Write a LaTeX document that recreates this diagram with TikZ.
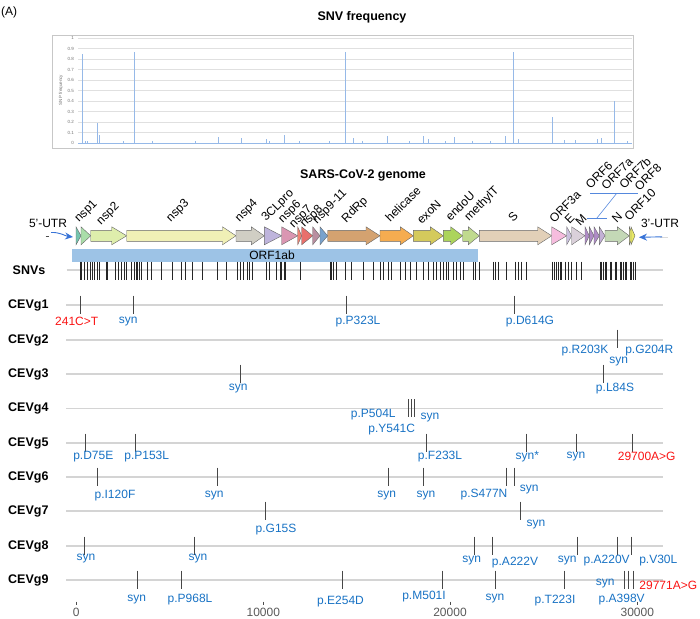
\documentclass[tikz,border=0pt]{standalone}
\usepackage{fontspec}
\setmainfont{Liberation Sans}
\usetikzlibrary{arrows.meta, positioning, calc}
\definecolor{mutblue}{RGB}{24,114,196}
\definecolor{ntred}{RGB}{250,20,20}
\definecolor{barblue}{RGB}{150,185,232}
\definecolor{orfbar}{RGB}{157,195,230}
\definecolor{utrblue}{RGB}{55,115,215}
\definecolor{cutr}{RGB}{118,196,174}
\definecolor{cnspa}{RGB}{170,222,170}
\definecolor{cnspb}{RGB}{222,238,172}
\definecolor{cnspc}{RGB}{240,240,182}
\definecolor{cnspd}{RGB}{208,206,196}
\definecolor{cclp}{RGB}{190,180,220}
\definecolor{cnspf}{RGB}{218,150,178}
\definecolor{cnspg}{RGB}{240,130,115}
\definecolor{cnsph}{RGB}{232,112,108}
\definecolor{cnspi}{RGB}{185,142,160}
\definecolor{cnspj}{RGB}{120,162,205}
\definecolor{crdrp}{RGB}{212,162,112}
\definecolor{chel}{RGB}{245,172,80}
\definecolor{cexo}{RGB}{212,202,92}
\definecolor{cendo}{RGB}{172,212,92}
\definecolor{cmeth}{RGB}{192,218,142}
\definecolor{cspk}{RGB}{226,208,184}
\definecolor{corfa}{RGB}{246,188,222}
\definecolor{corfe}{RGB}{202,192,222}
\definecolor{corfm}{RGB}{218,208,218}
\definecolor{corfs}{RGB}{175,140,198}
\definecolor{corfh}{RGB}{195,176,214}
\definecolor{cnuc}{RGB}{196,216,182}
\definecolor{corft}{RGB}{232,232,100}

\begin{document}
\begin{tikzpicture}[x=1pt, y=-1pt,
    rowline/.style={draw=black!17, line width=1.1pt},
    tk/.style={draw=black!72, line width=0.9pt},
    mut/.style={text=mutblue, font=\fontsize{12}{14}\selectfont, inner sep=0pt},
    ntc/.style={text=ntred, font=\fontsize{12}{14}\selectfont, inner sep=0pt},
    rowlab/.style={font=\fontsize{12.5}{14}\selectfont\bfseries, anchor=west, inner sep=0pt},
    glab/.style={rotate=45, font=\fontsize{12}{14}\selectfont, inner sep=0pt},
    gene/.style={draw=black!60, line width=0.4pt},
    bar/.style={draw=barblue, line width=0.8pt},
    grid/.style={draw=black!12, line width=0.4pt},
    ytick/.style={font=\fontsize{4.5}{5}\selectfont, text=black!55, anchor=east, inner sep=0pt},
    utr/.style={draw=utrblue, line width=0.9pt, -{Stealth[length=8pt,width=7pt]}},
    orfline/.style={draw=utrblue!85, line width=0.6pt},
    axlab/.style={font=\fontsize{12}{14}\selectfont, text=black!65, inner sep=0pt}
  ]
  \useasboundingbox (0,0) rectangle (700,618);

  % panel tag and titles
  \node[font=\fontsize{12}{14}\selectfont, anchor=west, inner sep=0pt] (tag) at (1,12) {(A)};
  \node[font=\fontsize{12.5}{14}\selectfont\bfseries, inner sep=0pt] (ftitle) at (362,17) {SNV frequency};

  % frequency chart
  \draw[black!22, line width=0.8pt] (52,35) rectangle (633,148.5);
  \foreach \v in {0,1,...,10} {
    \draw[grid] (78,{143-10.5*\v}) -- (632,{143-10.5*\v});
  }
  \foreach \v/\t in {0/0,1/0.1,2/0.2,3/0.3,4/0.4,5/0.5,6/0.6,7/0.7,8/0.8,9/0.9,10/1}
    \node[ytick] at (74,{143-10.5*\v}) {\t};
  \node[rotate=90, font=\fontsize{4.5}{5}\selectfont, text=black!55] (yax) at (61,90) {SNP frequency};
  \draw[bar] (78,143) -- (632,143);
  \foreach \x/\f in {82.3/0.85, 85.4/0.02, 86.9/0.02, 97.5/0.19, 99.4/0.08, 123.4/0.015,
      134.4/0.87, 151.9/0.015, 194.5/0.02, 217.3/0.06, 240.1/0.05, 264.8/0.04,
      268.6/0.015, 282.7/0.075, 297.9/0.02, 327.6/0.015, 343.9/0.87, 351.5/0.05,
      361/0.015, 385.4/0.065, 407.4/0.02, 420.7/0.065, 426.4/0.04, 443.5/0.015,
      452.3/0.06, 470.2/0.02, 488/0.02, 502.5/0.065, 510.1/0.87, 515.8/0.035,
      549.2/0.25, 561.4/0.025, 571.7/0.025, 593.7/0.04, 597.5/0.05, 610.8/0.40,
      624.1/0.02}
    \draw[bar] ({82.3+(\x-82.3)*1.0066},143) -- ({82.3+(\x-82.3)*1.0066},{143-105*\f});

  % genome map
  \node[font=\fontsize{12.5}{14}\selectfont\bfseries, inner sep=0pt] (gtitle) at (363,175) {SARS-CoV-2 genome};

  \foreach \a/\b/\h/\c in {90.7/126.7/15/cnspb, 126.7/236/13.5/cnspc, 236/264.3/13/cnspd,
      327.7/380/14/crdrp, 380/413.3/13/chel, 413.3/443.3/13/cexo, 443.3/462.7/12/cendo,
      462.7/479.3/11/cmeth, 479.3/551.7/14/cspk, 605/629.3/12/cnuc}
    \draw[gene, fill=\c] (\a,230.3) -- ({\b-\h},230.3) -- ({\b-\h},226.8) -- (\b,235.8)
      -- ({\b-\h},244.8) -- ({\b-\h},241.3) -- (\a,241.3) -- cycle;
  \foreach \a/\b/\c in {76/81/cutr, 81/90.7/cnspa, 264.3/281.7/cclp, 281.7/297.7/cnspf,
      297.7/301.7/cnspg, 301.7/312.7/cnsph, 312.7/320/cnspi, 320/327.7/cnspj,
      551.7/566.7/corfa, 566.7/571.7/corfe, 571.7/585/corfm, 585/589.3/corfs,
      589.3/594/corfs, 594/599.3/corfs, 599.3/605/corfh, 629.3/633.3/corft, 631/635/corft}
    \draw[gene, fill=\c] (\a,226.8) -- (\b,235.8) -- (\a,244.8) -- cycle;

  % gene names
  \foreach \x/\y/\t in {86.3/211.7/nsp1, 108.3/214/nsp2, 178/211/nsp3, 246.7/211/nsp4,
      278/206/3CLpro, 290/212/nsp6, 301/217/nsp7, 311.7/216.7/nsp8, 330/207/nsp9-11,
      355/210/RdRp, 403/204/helicase, 429/212/exoN, 460/206/endoU, 482/204/methylT,
      513/217/S, 565/207/ORF3a, 569.5/219/E, 581/220/M, 617/218/N, 640/205/ORF10,
      599/175/ORF6, 617/174/ORF7a, 635/173/ORF7b, 648/177/ORF8}
    \node[glab] at (\x,\y) {\t};

  \coordinate (oa) at (590,193.3);
  \coordinate (ob) at (638,193.3);
  \coordinate (oc) at (616.7,193.3);
  \coordinate (od) at (596.7,218.3);
  \coordinate (oe) at (586.7,218.3);
  \coordinate (of) at (606.7,218.3);
  \draw[orfline] (oa) -- (ob);
  \draw[orfline] (oc) -- (od);
  \draw[orfline] (oe) -- (of);

  % UTR pointers
  \node[font=\fontsize{12}{14}\selectfont, inner sep=0pt] (utr5) at (48,223) {5'-UTR};
  \node[font=\fontsize{12}{14}\selectfont, inner sep=0pt] (utr3) at (660,223) {3'-UTR};
  \draw[black!70, line width=0.8pt] (45.5,236.7) -- (49,236.7);
  \coordinate (u5a) at (51,232.5);
  \coordinate (u5b) at (73,237);
  \draw[utr] (u5a) .. controls (60,232) and (65,236) .. (u5b);
  \draw[black!15, line width=0.6pt] (660,236.8) -- (668,236.8);
  \coordinate (u3a) at (662,236.8);
  \coordinate (u3b) at (639,237.3);
  \draw[utr] (u3a) -- (u3b);

  % ORF1ab
  \fill[orfbar] (71.7,249) rectangle (478.3,261.7);
  \node[font=\fontsize{12}{14}\selectfont, inner sep=0pt] (orf1ab) at (272,255.5) {ORF1ab};

  % SNV row
  \node[rowlab] (snvs) at (12.5,270) {SNVs};
  \draw[rowline] (66.7,270) -- (663,270);
  \foreach \x in {80, 81.7, 84, 87.3, 90.7, 92.3, 94.3, 97, 99.3, 106, 107.3, 115, 118.3,
      121.7, 124, 126, 131.7, 134, 136, 137.3, 139.3, 141, 147.7, 151.7, 161.7, 172.7,
      181.7, 185.7, 192.7, 202.7, 217.3, 226.7, 237.3, 240, 243.3, 247.3, 249.3, 252.7,
      266.7, 269.3, 276, 280, 281, 284, 285, 300.7, 330, 331.7, 333.3, 336.7, 345, 351.7,
      363.3, 373.3, 380, 383.3, 388.3, 391.7, 400, 405, 410, 416.7, 423.3, 428.3, 433.3,
      436.7, 440, 443.3, 446.7, 448.3, 453.3, 456.7, 460, 463.3, 473.3, 475.7, 479.3,
      493.3, 495.7, 498.3, 506.7, 515, 518.3, 521.7, 526.7, 552.7, 554, 556, 558.3, 560,
      561.7, 565, 568.3, 571.7, 576.7, 581.7, 600, 601.7, 603.3, 605, 606.7, 610, 611.7,
      615, 616.7, 620, 621.7, 623.3, 625, 626.7, 630, 631.7, 633.3, 635}
    \draw[black!85, line width=0.7pt] (\x,261.5) -- (\x,279.5);

  % CEVg rows
  \foreach \i/\y in {1/305, 2/340, 3/374, 4/408.3, 5/443, 6/477, 7/511, 8/546, 9/580} {
    \node[rowlab] (cev\i) at (8,\y) {CEVg\i};
    \draw[rowline] (66,\y) -- (663,\y);
  }

  % variant ticks
  \foreach \x/\y in {80.7/305, 133.3/305, 346/305, 514.3/305,
      617.3/339,
      240.7/374, 603.3/374,
      408.7/408.3, 411.3/408.3, 414/408.3,
      85.7/443, 135.7/443, 426.7/443, 526/443, 576.7/443, 632.3/443,
      97.7/477, 217.3/477, 388.3/477, 423.3/477, 506.7/477, 514/477,
      265/511, 520.7/511,
      84.3/546, 194/546, 474/546, 492.3/546, 577.7/546, 617.7/546, 631/546,
      137.3/580, 181.3/580, 342/580, 442/580, 495.3/580, 564/580, 624/580, 628.7/580,
      633.3/580}
    \draw[tk] (\x,{\y-9.3}) -- (\x,{\y+9});

  % variant labels
  \foreach \x/\y/\t/\s [count=\k] in {76.7/321.7/241C>T/ntc, 128.3/321.7/syn/mut,
      358/321.7/p.P323L/mut, 530/321.7/p.D614G/mut,
      585/351/p.R203K/mut, 649.3/351/p.G204R/mut, 618.7/361.7/syn/mut,
      238.3/388.3/syn/mut, 615/388.3/p.L84S/mut,
      373.3/414.3/p.P504L/mut, 430/417.3/syn/mut, 391.7/430/p.Y541C/mut,
      93.3/456.7/p.D75E/mut, 146.7/456.7/p.P153L/mut, 440/456.7/p.F233L/mut,
      527.3/456.7/syn*/mut, 576/456.7/syn/mut, 646.7/456.7/29700A>G/ntc,
      115/496/p.I120F/mut, 214.3/495.5/syn/mut, 386.7/495.5/syn/mut, 426/495.5/syn/mut,
      484/494.5/p.S477N/mut, 529.3/490/syn/mut,
      276/530/p.G15S/mut, 536/525/syn/mut,
      86/559/syn/mut, 198/559/syn/mut, 471.7/560.7/syn/mut, 515/562.7/p.A222V/mut,
      567.3/560.7/syn/mut, 606.7/560.7/p.A220V/mut, 658.3/560.7/p.V30L/mut,
      136.7/599.3/syn/mut, 190/599.3/p.P968L/mut, 340.5/601.7/p.E254D/mut,
      424/596.7/p.M501I/mut, 495/598.3/syn/mut, 555/600.7/p.T223I/mut,
      605.3/583.3/syn/mut, 668.3/585/29771A>G/ntc, 621.7/599.3/p.A398V/mut}
    \node[\s] (v\k) at (\x,\y) {\t};

  % position axis
  \foreach \x/\t in {76.3/0, 263.3/10000, 450/20000, 637.3/30000} {
    \draw[black!70, line width=0.9pt] (\x,601.5) -- (\x,605);
    \node[axlab] (ax\t) at (\x,612.5) {\t};
  }
\end{tikzpicture}
\end{document}
